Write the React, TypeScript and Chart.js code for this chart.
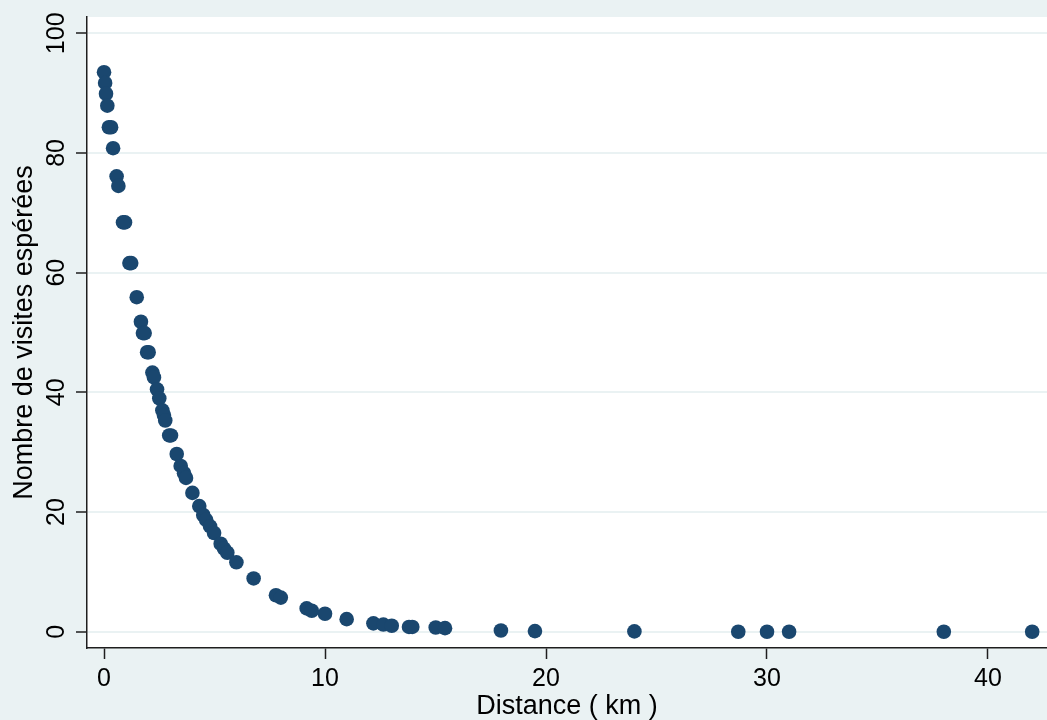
import React, { useEffect, useRef } from "react";
import { Chart, registerables } from "chart.js";

Chart.register(...registerables);

const distanceKm: number[] = [
  0.0, 0.05, 0.09, 0.15, 0.22, 0.32, 0.41, 0.57, 0.65, 0.86, 0.95, 1.15, 1.23,
  1.48, 1.67, 1.76, 1.84, 1.95, 2.02, 2.19, 2.26, 2.4, 2.5, 2.64, 2.71, 2.77,
  2.95, 3.03, 3.29, 3.47, 3.62, 3.71, 4.0, 4.31, 4.49, 4.62, 4.8, 4.98, 5.28,
  5.43, 5.58, 5.99, 6.77, 7.78, 8.0, 9.17, 9.4, 10.0, 10.98, 12.19, 12.64,
  13.02, 13.8, 13.95, 15.01, 15.43, 17.96, 19.5, 24.0, 28.7, 30.0, 31.0, 38.0,
  42.0,
];

const expectedVisits: number[] = [
  93.5, 91.7, 89.9, 87.9, 84.3, 84.3, 80.8, 76.1, 74.5, 68.4, 68.4, 61.6, 61.6,
  55.9, 51.8, 49.9, 49.9, 46.7, 46.7, 43.3, 42.5, 40.5, 39.0, 37.0, 36.2, 35.3,
  32.8, 32.8, 29.7, 27.7, 26.5, 25.7, 23.2, 21.0, 19.5, 18.7, 17.6, 16.5, 14.7,
  13.9, 13.2, 11.6, 8.9, 6.1, 5.7, 3.9, 3.5, 3.0, 2.1, 1.4, 1.2, 1.0, 0.8, 0.8,
  0.7, 0.6, 0.2, 0.1, 0.05, 0.0, 0.0, 0.0, 0.0, 0.0,
];

const xTickValues: number[] = [0, 10, 20, 30, 40];
const yTickValues: number[] = [0, 20, 40, 60, 80, 100];

const FONT = "'Liberation Sans', Arial, Helvetica, sans-serif";
const BG = "rgb(234,242,243)";
const MARKER = "#1a476f";
const AXIS = "#1e1e1e";

const backgroundPlugin = {
  id: "stataBackground",
  beforeDraw(chart: any) {
    const { ctx, chartArea, width, height } = chart;
    ctx.save();
    ctx.fillStyle = BG;
    ctx.fillRect(0, 0, width, height);
    ctx.fillStyle = "#ffffff";
    ctx.fillRect(
      chartArea.left,
      chartArea.top,
      chartArea.right - chartArea.left,
      chartArea.bottom - chartArea.top
    );
    ctx.restore();
  },
};

const yLabelPlugin = {
  id: "rotatedYLabels",
  afterDraw(chart: any) {
    const { ctx } = chart;
    const y = chart.scales.y;
    ctx.save();
    ctx.fillStyle = "#000000";
    ctx.font = `25px ${FONT}`;
    ctx.textAlign = "center";
    ctx.textBaseline = "alphabetic";
    for (const v of yTickValues) {
      const py = y.getPixelForValue(v);
      ctx.save();
      ctx.translate(64, py);
      ctx.rotate(-Math.PI / 2);
      ctx.fillText(String(v), 0, 0);
      ctx.restore();
    }
    ctx.restore();
  },
};

export default function App() {
  const canvasRef = useRef<HTMLCanvasElement | null>(null);

  useEffect(() => {
    if (!canvasRef.current) return;
    const points = distanceKm.map((x, i) => ({ x, y: expectedVisits[i] }));
    const chart = new Chart(canvasRef.current, {
      type: "scatter",
      data: {
        datasets: [
          {
            data: points,
            backgroundColor: MARKER,
            borderWidth: 0,
            pointRadius: 7.3,
            pointHoverRadius: 7.3,
          },
        ],
      },
      plugins: [backgroundPlugin, yLabelPlugin],
      options: {
        animation: false,
        responsive: false,
        layout: {
          autoPadding: false,
          padding: { top: 17, left: 0, right: 0, bottom: 0 },
        },
        plugins: {
          legend: { display: false },
          tooltip: { enabled: false },
        },
        scales: {
          x: {
            type: "linear",
            min: -0.77,
            max: 42.67,
            afterBuildTicks: (scale: any) => {
              scale.ticks = xTickValues.map((value) => ({ value }));
            },
            afterFit: (scale: any) => {
              scale.height = 72;
              scale.paddingLeft = 0;
              scale.paddingRight = 0;
            },
            grid: {
              display: true,
              drawOnChartArea: false,
              drawTicks: true,
              tickLength: 11,
              tickColor: AXIS,
              tickWidth: 1.5,
            },
            border: { display: true, color: AXIS, width: 1.5 },
            ticks: {
              color: "#000000",
              font: { family: FONT, size: 25 },
              padding: 5,
              maxRotation: 0,
              minRotation: 0,
            },
            title: {
              display: true,
              text: "Distance ( km )",
              color: "#000000",
              font: { family: FONT, size: 27, lineHeight: 1 },
              padding: { top: 0, bottom: 0 },
            },
          },
          y: {
            type: "linear",
            min: -2.72,
            max: 102.72,
            afterBuildTicks: (scale: any) => {
              scale.ticks = yTickValues.map((value) => ({ value }));
            },
            afterFit: (scale: any) => {
              scale.width = 87;
              scale.paddingTop = 0;
              scale.paddingBottom = 0;
            },
            grid: {
              display: true,
              drawOnChartArea: true,
              color: BG,
              lineWidth: 2,
              drawTicks: true,
              tickLength: 11,
              tickColor: AXIS,
              tickWidth: 1.5,
            },
            border: { display: true, color: AXIS, width: 1.5 },
            ticks: { display: false },
            title: {
              display: true,
              text: "Nombre de visites espérées",
              color: "#000000",
              font: { family: FONT, size: 27, lineHeight: 1.2 },
              padding: { top: 8, bottom: 0 },
            },
          },
        },
      },
    });
    return () => chart.destroy();
  }, []);

  return (
    <div
      style={{
        position: "fixed",
        left: 0,
        top: 0,
        width: 1047,
        height: 720,
        background: BG,
      }}
    >
      <canvas ref={canvasRef} width={1047} height={720} />
    </div>
  );
}
